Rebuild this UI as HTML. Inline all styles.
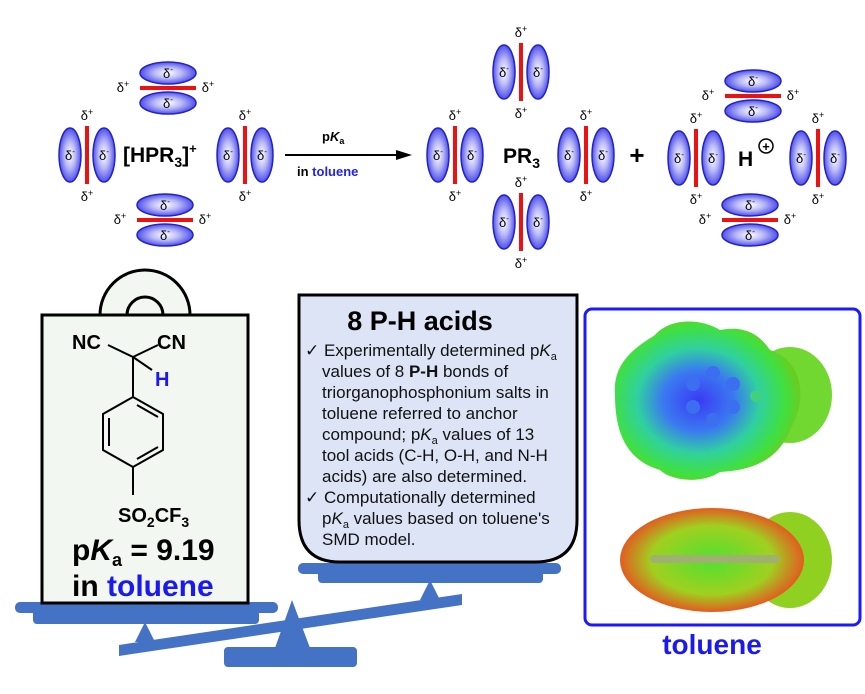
<!DOCTYPE html>
<html><head><meta charset="utf-8"><style>
body{margin:0;background:#fff}
svg{display:block;font-family:"Liberation Sans",Arial,sans-serif}
</style></head><body>
<svg width="865" height="694" viewBox="0 0 865 694" xmlns="http://www.w3.org/2000/svg">
<defs>
<radialGradient id="g" cx="50%" cy="50%" r="55%">
<stop offset="0" stop-color="#ffffff"/><stop offset="0.45" stop-color="#b8b8f6"/><stop offset="1" stop-color="#3c3ce8"/>
</radialGradient>
<radialGradient id="m1" cx="45%" cy="50%" r="55%">
<stop offset="0" stop-color="#3a3af5"/><stop offset="0.35" stop-color="#3a7af0"/><stop offset="0.6" stop-color="#30d0a0"/><stop offset="0.85" stop-color="#40e040"/><stop offset="1" stop-color="#6acc20"/>
</radialGradient>
<radialGradient id="m2" cx="50%" cy="50%" r="55%">
<stop offset="0" stop-color="#50e030"/><stop offset="0.6" stop-color="#a0d020"/><stop offset="0.9" stop-color="#e06020"/><stop offset="1" stop-color="#c04010"/>
</radialGradient>
<g id="ev"><ellipse cx="0" cy="0" rx="11" ry="27" fill="url(#g)" stroke="#2222cc" stroke-width="1.5"/><text x="0" y="5" font-size="13" text-anchor="middle">δ<tspan font-size="8" dy="-6">-</tspan></text></g>
<g id="eh"><ellipse cx="0" cy="0" rx="28" ry="11" fill="url(#g)" stroke="#2222cc" stroke-width="1.5"/><text x="0" y="5" font-size="13" text-anchor="middle">δ<tspan font-size="8" dy="-6">-</tspan></text></g>
<g id="vd"><use href="#ev" x="-17"/><use href="#ev" x="17"/><line x1="0" y1="-29" x2="0" y2="29" stroke="#ee1111" stroke-width="4"/><text x="0" y="-35" font-size="13" text-anchor="middle">δ<tspan font-size="9" dy="-5">+</tspan></text><text x="0" y="46" font-size="13" text-anchor="middle">δ<tspan font-size="9" dy="-5">+</tspan></text></g>
<g id="hd"><use href="#eh" y="-15"/><use href="#eh" y="15"/><line x1="-28" y1="0" x2="28" y2="0" stroke="#ee1111" stroke-width="4"/><text x="-45" y="4" font-size="13" text-anchor="middle">δ<tspan font-size="9" dy="-5">+</tspan></text><text x="40" y="4" font-size="13" text-anchor="middle">δ<tspan font-size="9" dy="-5">+</tspan></text></g>
</defs>

<!-- left group -->
<use href="#hd" x="168" y="88"/>
<use href="#vd" x="87" y="155"/>
<use href="#vd" x="245" y="155"/>
<use href="#hd" x="165" y="220"/>
<text x="123" y="162" font-size="21" font-weight="bold">[HPR<tspan font-size="14" dy="5">3</tspan><tspan dy="-5">]</tspan><tspan font-size="13" dy="-9">+</tspan></text>

<!-- arrow -->
<line x1="285" y1="155" x2="400" y2="155" stroke="#000" stroke-width="2"/>
<polygon points="412,155 396,150 396,160" fill="#000"/>
<text x="322" y="141" font-size="13" font-weight="bold">p<tspan font-style="italic">K</tspan><tspan font-size="9" dy="3">a</tspan></text>
<text x="297" y="176" font-size="13" font-weight="bold">in <tspan fill="#2222ee">toluene</tspan></text>

<!-- PR3 group -->
<use href="#vd" x="455" y="155"/>
<use href="#vd" x="521" y="72"/>
<use href="#vd" x="586" y="155"/>
<use href="#vd" x="521" y="222"/>
<text x="503" y="163" font-size="21" font-weight="bold">PR<tspan font-size="14" dy="5">3</tspan></text>
<text x="637" y="164" font-size="26" font-weight="bold" text-anchor="middle">+</text>

<!-- H group -->
<use href="#vd" x="696" y="158"/>
<use href="#hd" x="753" y="96"/>
<use href="#vd" x="818" y="158"/>
<use href="#hd" x="750" y="220"/>
<text x="738" y="166" font-size="21" font-weight="bold">H</text>
<circle cx="766" cy="146" r="7" fill="none" stroke="#000" stroke-width="1.5"/>
<text x="766" y="151" font-size="13" font-weight="bold" text-anchor="middle">+</text>

<!-- scale -->
<polygon points="119,645 119,656 462,605 462,594" fill="#4472c4"/>
<polygon points="292,600 275,648 310,648" fill="#4472c4"/>
<rect x="224" y="647" width="133" height="20" rx="4" fill="#4472c4"/>
<polygon points="145,622 135,642 155,642" fill="#4472c4"/>
<polygon points="430,580 420,600 440,600" fill="#4472c4"/>
<rect x="15" y="602" width="263" height="11" rx="5" fill="#4472c4"/>
<rect x="33" y="608" width="226" height="16" rx="4" fill="#4472c4"/>
<rect x="298" y="563" width="263" height="11" rx="5" fill="#4472c4"/>
<rect x="318" y="569" width="225" height="14" rx="4" fill="#4472c4"/>

<!-- left box -->
<path d="M100,315 A45,45 0 0 1 190,315" fill="#f2f7f2" stroke="#000" stroke-width="3"/>
<path d="M127,315 A18,18 0 0 1 163,315" fill="none" stroke="#000" stroke-width="3"/>
<rect x="42" y="315" width="206" height="288" fill="#f2f7f2" stroke="#000" stroke-width="3"/>
<text x="72" y="349" font-size="20" font-weight="bold">NC</text>
<text x="157" y="349" font-size="20" font-weight="bold">CN</text>
<text x="155" y="386" font-size="20" font-weight="bold" fill="#1a1aee">H</text>
<g stroke="#000" stroke-width="2" fill="none">
<line x1="108" y1="345" x2="133" y2="357"/><line x1="158" y1="345" x2="133" y2="357"/>
<line x1="133" y1="357" x2="152" y2="370"/>
<line x1="133" y1="357" x2="133" y2="397"/>
<polygon points="133,397 163,414 163,450 133,467 103,450 103,414"/>
<line x1="137" y1="405" x2="158" y2="417"/><line x1="109" y1="418" x2="109" y2="446"/><line x1="137" y1="459" x2="158" y2="447"/>
<line x1="133" y1="467" x2="133" y2="495"/>
</g>
<text x="118" y="522" font-size="20" font-weight="bold">SO<tspan font-size="14" dy="5">2</tspan><tspan dy="-5">CF</tspan><tspan font-size="14" dy="5">3</tspan></text>
<text x="72" y="560" font-size="30" font-weight="bold">p<tspan font-style="italic">K</tspan><tspan font-size="18" dy="6">a</tspan><tspan dy="-6"> = 9.19</tspan></text>
<text x="72" y="596" font-size="30" font-weight="bold">in <tspan fill="#1a1aee">toluene</tspan></text>

<!-- right box -->
<path d="M299,295 H577 V520 Q577,562 535,562 H340 Q299,562 299,520 Z" fill="#dce4f5" stroke="#000" stroke-width="3"/>
<text x="420" y="330" font-size="27" font-weight="bold" text-anchor="middle">8 P-H acids</text>
<g font-size="17" fill="#111">
<text x="305" y="356">✓ Experimentally determined p<tspan font-style="italic">K</tspan><tspan font-size="11" dy="4">a</tspan></text>
<text x="322" y="377">values of 8 <tspan font-weight="bold">P-H</tspan> bonds of</text>
<text x="322" y="398">triorganophosphonium salts in</text>
<text x="322" y="419">toluene referred to anchor</text>
<text x="322" y="440">compound; p<tspan font-style="italic">K</tspan><tspan font-size="11" dy="4">a</tspan><tspan dy="-4"> values of 13</tspan></text>
<text x="322" y="461">tool acids (C-H, O-H, and N-H</text>
<text x="322" y="482">acids) are also determined.</text>
<text x="305" y="503">✓ Computationally determined</text>
<text x="322" y="524">p<tspan font-style="italic">K</tspan><tspan font-size="11" dy="4">a</tspan><tspan dy="-4"> values based on toluene's</tspan></text>
<text x="322" y="545">SMD model.</text>
</g>

<!-- right panel -->
<rect x="585" y="309" width="275" height="316" rx="7" fill="#fff" stroke="#1a1aff" stroke-width="3"/>
<ellipse cx="790" cy="395" rx="42" ry="48" fill="#70d830"/>
<path d="M615,395 C612,360 640,345 655,335 C670,318 700,318 720,330 C745,325 760,335 770,350 C800,360 810,395 790,430 C780,455 760,470 720,472 C700,485 670,480 660,470 C625,460 615,430 615,395 Z" fill="url(#m1)"/>
<g fill="#3c6ef0"><circle cx="693" cy="384" r="7"/><circle cx="713" cy="373" r="7"/><circle cx="733" cy="384" r="7"/><circle cx="733" cy="407" r="7"/><circle cx="713" cy="420" r="7"/><circle cx="693" cy="407" r="7"/><circle cx="756" cy="396" r="6" fill="#40d080"/></g>
<ellipse cx="790" cy="560" rx="42" ry="48" fill="#90d020"/>
<ellipse cx="712" cy="560" rx="92" ry="52" fill="url(#m2)"/>
<rect x="650" y="555" width="130" height="8" rx="4" fill="#a0b070"/>
<text x="712" y="654" font-size="28" font-weight="bold" fill="#1a1aee" text-anchor="middle">toluene</text>
</svg>
</body></html>
